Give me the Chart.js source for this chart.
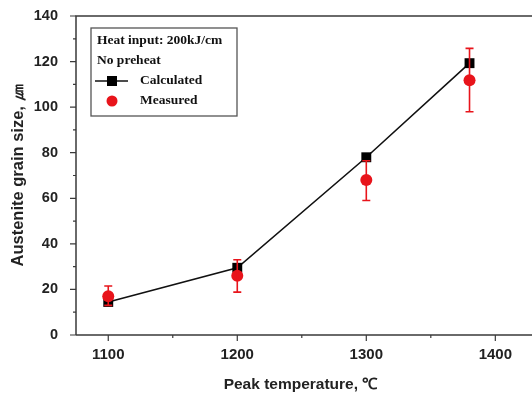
<!DOCTYPE html>
<html>
<head>
<meta charset="utf-8">
<script src="https://cdn.jsdelivr.net/npm/chart.js@4"></script>
<style>
  html, body { margin: 0; padding: 0; background: #fff; }
  #wrap { width: 532px; height: 394px; }
</style>
</head>
<body>
<div id="wrap"><canvas id="grainChart" width="532" height="394"></canvas></div>
<script>
// values
var temps = [1100, 1200, 1300, 1380];
var calculated = [14.5, 29.5, 78, 119.3];
var measured = [17, 26, 68, 111.8];
var measuredLow = [13, 18.8, 59, 98];
var measuredHigh = [21.5, 33, 76.5, 125.8];
var xTicks = [1100, 1150, 1200, 1250, 1300, 1350, 1400];
var yTicks = [0, 10, 20, 30, 40, 50, 60, 70, 80, 90, 100, 110, 120, 130, 140];

var axisColor = '#3a3a3a';
var red = '#e8141b';

// error bars for the measured series
var errorBars = {
    id: 'errorBars',
    afterDatasetDraw: function (chart, args) {
        if (args.index !== 1) return;
        var ctx = chart.ctx;
        var xs = chart.scales.x, ys = chart.scales.y;
        ctx.save();
        ctx.strokeStyle = red;
        ctx.lineWidth = 1.6;
        for (var i = 0; i < temps.length; i++) {
            var px = xs.getPixelForValue(temps[i]);
            var lo = ys.getPixelForValue(measuredLow[i]);
            var hi = ys.getPixelForValue(measuredHigh[i]);
            ctx.beginPath();
            ctx.moveTo(px, lo); ctx.lineTo(px, hi);
            ctx.moveTo(px - 4, lo); ctx.lineTo(px + 4, lo);
            ctx.moveTo(px - 4, hi); ctx.lineTo(px + 4, hi);
            ctx.stroke();
        }
        ctx.restore();
    }
};

// axis frame, outward ticks and the text legend box
var frame = {
    id: 'frame',
    afterDraw: function (chart) {
        var ctx = chart.ctx;
        var a = chart.chartArea;
        var xs = chart.scales.x, ys = chart.scales.y;
        ctx.save();
        ctx.strokeStyle = axisColor;
        ctx.lineWidth = 1.5;
        ctx.beginPath();
        ctx.moveTo(a.left, a.bottom); ctx.lineTo(a.left, a.top); ctx.lineTo(chart.width, a.top);
        ctx.moveTo(a.left, a.bottom); ctx.lineTo(chart.width, a.bottom);
        ctx.stroke();

        ctx.lineWidth = 1.2;
        ctx.beginPath();
        yTicks.forEach(function (v) {
            var py = ys.getPixelForValue(v);
            var len = v % 20 === 0 ? 6 : 3;
            ctx.moveTo(a.left - len, py); ctx.lineTo(a.left, py);
        });
        xTicks.forEach(function (v) {
            var px = xs.getPixelForValue(v);
            var len = v % 100 === 0 ? 6 : 3;
            ctx.moveTo(px, a.bottom); ctx.lineTo(px, a.bottom + len);
        });
        ctx.stroke();

        // legend box
        ctx.strokeStyle = '#555';
        ctx.lineWidth = 1.3;
        ctx.strokeRect(91, 28, 146, 88);
        ctx.fillStyle = '#111';
        ctx.font = 'bold 13.5px "Liberation Serif"';
        ctx.textBaseline = 'middle';
        ctx.textAlign = 'left';
        ctx.fillText('Heat input: 200kJ/cm', 97, 41);
        ctx.fillText('No preheat', 97, 61);
        ctx.fillText('Calculated', 140, 81);
        ctx.fillText('Measured', 140, 101);

        ctx.strokeStyle = '#111';
        ctx.lineWidth = 1.5;
        ctx.beginPath();
        ctx.moveTo(95, 81); ctx.lineTo(128, 81);
        ctx.stroke();
        ctx.fillStyle = '#000';
        ctx.fillRect(107, 76, 10, 10);
        ctx.fillStyle = red;
        ctx.beginPath();
        ctx.arc(112, 101, 5.5, 0, Math.PI * 2);
        ctx.fill();
        ctx.restore();
    }
};

new Chart(document.getElementById('grainChart'), {
    type: 'scatter',
    data: {
        datasets: [{
            label: 'Calculated',
            data: temps.map(function (t, i) { return { x: t, y: calculated[i] }; }),
            showLine: true,
            borderColor: '#111',
            borderWidth: 1.6,
            pointStyle: 'rect',
            pointRadius: 7,
            pointBackgroundColor: '#000',
            pointBorderColor: '#000',
            pointBorderWidth: 0,
            order: 2
        }, {
            label: 'Measured',
            data: temps.map(function (t, i) { return { x: t, y: measured[i] }; }),
            showLine: false,
            pointStyle: 'circle',
            pointRadius: 6,
            pointBackgroundColor: red,
            pointBorderColor: red,
            pointBorderWidth: 0,
            order: 1
        }]
    },
    options: {
        responsive: false,
        animation: false,
        layout: { padding: { top: 16, right: 0, left: 0, bottom: 0 } },
        plugins: {
            legend: { display: false },
            tooltip: { enabled: false }
        },
        scales: {
            x: {
                type: 'linear',
                min: 1075,
                max: 1423,
                afterBuildTicks: function (scale) {
                    scale.ticks = xTicks.map(function (v) { return { value: v }; });
                },
                afterFit: function (scale) {
                    scale.height = 59;
                    scale.paddingLeft = 0;
                    scale.paddingRight = 0;
                },
                grid: { display: false },
                border: { display: false },
                ticks: {
                    padding: 3,
                    color: '#222',
                    font: { family: '"Liberation Sans"', weight: 'bold', size: 15 },
                    maxRotation: 0,
                    callback: function (v) { return v % 100 === 0 ? v : ''; }
                },
                title: {
                    display: true,
                    text: 'Peak temperature, ℃',
                    color: '#222',
                    padding: { top: 15, bottom: 0 },
                    font: { family: '"Liberation Sans"', weight: 'bold', size: 15.5 }
                }
            },
            y: {
                min: 0,
                max: 140,
                afterBuildTicks: function (scale) {
                    scale.ticks = yTicks.map(function (v) { return { value: v }; });
                },
                afterFit: function (scale) {
                    scale.width = 76;
                    scale.paddingTop = 0;
                    scale.paddingBottom = 0;
                },
                grid: { display: false },
                border: { display: false },
                ticks: {
                    padding: 10,
                    color: '#222',
                    font: { family: '"Liberation Sans"', weight: 'bold', size: 14.5 },
                    callback: function (v) { return v % 20 === 0 ? v : ''; }
                },
                title: {
                    display: true,
                    text: 'Austenite grain size, ㎛',
                    color: '#222',
                    padding: { top: 9, bottom: 0 },
                    font: { family: '"Liberation Sans"', weight: 'bold', size: 16.5 }
                }
            }
        }
    },
    plugins: [errorBars, frame]
});
</script>
</body>
</html>
